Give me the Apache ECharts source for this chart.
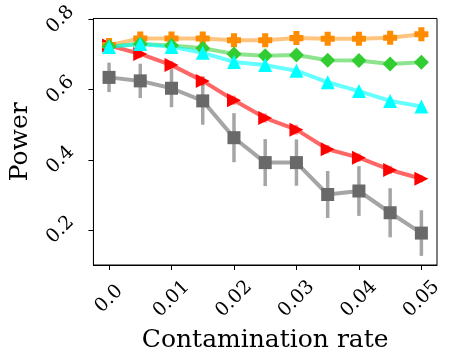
<!DOCTYPE html>
<html>
<head>
<meta charset="utf-8">
<script src="https://cdn.jsdelivr.net/npm/echarts@6/dist/echarts.min.js"></script>
<style>
  html, body { margin: 0; padding: 0; background: #fff; }
  #chart { width: 453px; height: 360px; }
</style>
</head>
<body>
<div id="chart"></div>
<script>
// contamination rates
const rates = [0, 0.005, 0.01, 0.015, 0.02, 0.025, 0.03, 0.035, 0.04, 0.045, 0.05]
const xTicks = [0, 0.01, 0.02, 0.03, 0.04, 0.05]
const xTickLabels = ['0.0', '0.01', '0.02', '0.03', '0.04', '0.05']
const yTicks = [0.2, 0.4, 0.6, 0.8]
const yTickLabels = ['0.2', '0.4', '0.6', '0.8']

// power per method
const orangeVals = [0.727, 0.746, 0.746, 0.746, 0.741, 0.741, 0.747, 0.745, 0.745, 0.748, 0.758]
const greenVals = [0.723, 0.730, 0.726, 0.718, 0.702, 0.697, 0.699, 0.684, 0.683, 0.673, 0.678]
const cyanVals = [0.722, 0.730, 0.722, 0.705, 0.679, 0.670, 0.654, 0.621, 0.596, 0.568, 0.552]
const redVals = [0.726, 0.702, 0.670, 0.625, 0.570, 0.519, 0.486, 0.430, 0.406, 0.371, 0.346]
const redErr = [0.010, 0.012, 0.012, 0.014, 0.013, 0.013, 0.014, 0.012, 0.012, 0.012, 0.010]
const grayVals = [0.635, 0.625, 0.604, 0.568, 0.463, 0.392, 0.392, 0.301, 0.311, 0.249, 0.191]
const grayErr = [0.042, 0.049, 0.054, 0.068, 0.070, 0.067, 0.066, 0.067, 0.071, 0.070, 0.065]

const font = 'DejaVu Serif'
// filled plus marker (matplotlib 'P')
const plusPath = 'path://M-1.3,-3H1.3V-1.3H3V1.3H1.3V3H-1.3V1.3H-3V-1.3H-1.3Z'

function pairs (vals) {
  return rates.map((x, i) => [x, vals[i]])
}

function errSeries (vals, errs, color) {
  return {
    type: 'custom',
    data: rates.map((x, i) => [x, vals[i], errs[i]]),
    renderItem: function (params, api) {
      const x = api.value(0)
      const y = api.value(1)
      const e = api.value(2)
      const p1 = api.coord([x, y - e])
      const p2 = api.coord([x, y + e])
      return {
        type: 'line',
        shape: { x1: p1[0], y1: p1[1], x2: p2[0], y2: p2[1] },
        style: { stroke: color, lineWidth: 3.5 }
      }
    },
    silent: true
  }
}

function lineSeries (vals, lineColor, markColor, symbol, size, rotate) {
  return {
    type: 'line',
    data: pairs(vals),
    symbol: symbol,
    symbolSize: size,
    symbolRotate: rotate || 0,
    showAllSymbol: true,
    lineStyle: { color: lineColor, width: 4 },
    itemStyle: { color: markColor },
    animation: false
  }
}

const chart = echarts.init(document.getElementById('chart'))

const option = {
  animation: false,
  grid: {
    left: 86,
    right: 16,
    top: 16,
    bottom: 95,
    show: true,
    borderColor: '#000',
    borderWidth: 1
  },
  xAxis: {
    type: 'value',
    min: -0.0025,
    max: 0.0525,
    name: 'Contamination rate',
    nameLocation: 'middle',
    nameGap: 74,
    nameTextStyle: { fontFamily: font, fontSize: 25, color: '#000', verticalAlign: 'middle' },
    axisLine: { show: true, onZero: false, lineStyle: { color: '#000', width: 1 } },
    axisTick: { show: true, inside: false, length: 5, customValues: xTicks, lineStyle: { color: '#000' } },
    splitLine: { show: false },
    axisLabel: {
      customValues: xTicks,
      rotate: 45,
      align: 'center',
      verticalAlign: 'middle',
      margin: 34,
      fontFamily: font,
      fontSize: 19,
      color: '#000',
      formatter: function (v) {
        const i = xTicks.findIndex(t => Math.abs(t - v) < 1e-9)
        return i >= 0 ? xTickLabels[i] : ''
      }
    }
  },
  yAxis: {
    type: 'value',
    min: 0.1,
    max: 0.803,
    name: 'Power',
    nameLocation: 'middle',
    nameGap: 66,
    nameTextStyle: { fontFamily: font, fontSize: 25, color: '#000', verticalAlign: 'middle' },
    axisLine: { show: true, onZero: false, lineStyle: { color: '#000', width: 1 } },
    axisTick: { show: true, inside: false, length: 5, customValues: yTicks, lineStyle: { color: '#000' } },
    splitLine: { show: false },
    axisLabel: {
      customValues: yTicks,
      rotate: 45,
      align: 'center',
      verticalAlign: 'middle',
      margin: 33,
      fontFamily: font,
      fontSize: 19,
      color: '#000',
      formatter: function (v) {
        const i = yTicks.findIndex(t => Math.abs(t - v) < 1e-9)
        return i >= 0 ? yTickLabels[i] : ''
      }
    }
  },
  series: [
    errSeries(grayVals, grayErr, 'rgba(105,105,105,0.6)'),
    lineSeries(grayVals, 'rgba(105,105,105,0.6)', '#696969', 'rect', 13),
    errSeries(redVals, redErr, 'rgba(255,0,0,0.4)'),
    lineSeries(redVals, 'rgba(255,0,0,0.6)', '#ff0000', 'triangle', 14, -90),
    lineSeries(orangeVals, 'rgba(255,140,0,0.5)', '#ff8c00', plusPath, 14),
    lineSeries(greenVals, 'rgba(50,205,50,0.55)', '#32cd32', 'diamond', 15),
    lineSeries(cyanVals, 'rgba(0,255,255,0.6)', '#00ffff', 'triangle', 14)
  ]
}

chart.setOption(option)
</script>
</body>
</html>
